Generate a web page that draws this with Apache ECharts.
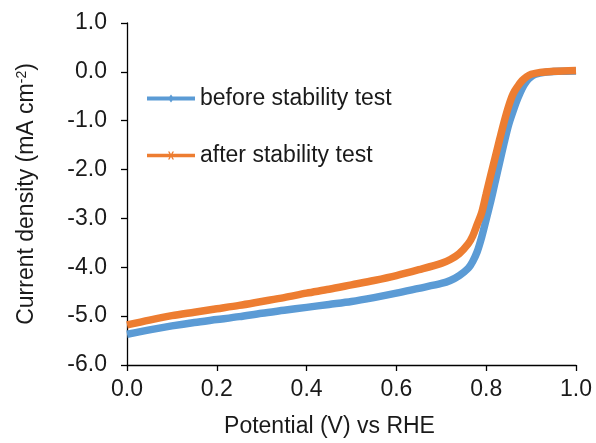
<!DOCTYPE html>
<html>
<head>
<meta charset="utf-8">
<script src="https://cdn.jsdelivr.net/npm/echarts@6/dist/echarts.min.js"></script>
<style>html,body{margin:0;padding:0;background:#fff}#c{width:596px;height:443px}</style>
</head>
<body>
<div id="c"></div>
<script>
var beforeX = [0.00,0.05,0.10,0.15,0.20,0.25,0.30,0.35,0.40,0.45,0.50,0.55,0.60,0.65,0.70,0.72,0.74,0.76,0.77,0.78,0.79,0.80,0.81,0.82,0.83,0.84,0.85,0.86,0.87,0.88,0.89,0.90,0.91,0.93,0.96,1.00];
var beforeY = [-5.37,-5.28,-5.20,-5.13,-5.07,-5.01,-4.94,-4.88,-4.82,-4.76,-4.70,-4.62,-4.53,-4.43,-4.33,-4.27,-4.17,-4.02,-3.88,-3.68,-3.38,-3.02,-2.65,-2.25,-1.85,-1.45,-1.08,-0.80,-0.55,-0.34,-0.19,-0.10,-0.05,-0.01,0.01,0.02];
var afterX = [0.00,0.05,0.10,0.15,0.20,0.25,0.30,0.35,0.40,0.45,0.50,0.55,0.60,0.65,0.70,0.72,0.74,0.76,0.77,0.78,0.79,0.80,0.81,0.82,0.83,0.84,0.85,0.86,0.87,0.88,0.89,0.90,0.92,0.95,1.00];
var afterY = [-5.18,-5.08,-4.99,-4.92,-4.85,-4.78,-4.70,-4.62,-4.53,-4.45,-4.36,-4.27,-4.17,-4.05,-3.92,-3.84,-3.72,-3.52,-3.36,-3.12,-2.88,-2.50,-2.12,-1.75,-1.38,-1.02,-0.70,-0.45,-0.30,-0.18,-0.10,-0.05,-0.01,0.01,0.03];
var seriesNames = ['before stability test','after stability test'];
var xTicks = {min:0, max:1, interval:0.2};
var yTicks = {min:-6, max:1, interval:1};

function pairs(xs, ys){ return xs.map(function(x,i){ return [x, ys[i]]; }); }

var FONT = '"Liberation Sans", Arial, sans-serif';
var TXT = '#1a1a1a';
var chart = echarts.init(document.getElementById('c'), null, {renderer:'canvas'});
chart.setOption({
  animation:false,
  backgroundColor:'#fff',
  textStyle:{fontFamily:FONT},
  grid:{left:127, right:20, top:23, bottom:75},
  legend:[
    {data:[{name:seriesNames[0], icon:'path://M0,2H48V6H0Z M24,0L27,4L24,8L21,4Z'}],
     left:147, top:87, padding:0, itemWidth:48, itemHeight:8, itemGap:5,
     textStyle:{fontSize:23, color:TXT, fontFamily:FONT}},
    {data:[{name:seriesNames[1], icon:'path://M0,2.2H48V5.8H0Z M21,0L22.5,0L27,8L25.5,8Z M25.5,0L27,0L22.5,8L21,8Z'}],
     left:147, top:144, padding:0, itemWidth:48, itemHeight:8, itemGap:5,
     textStyle:{fontSize:23, color:TXT, fontFamily:FONT}}
  ],
  xAxis:{
    type:'value', min:xTicks.min, max:xTicks.max, interval:xTicks.interval,
    name:'Potential (V) vs RHE', nameLocation:'middle', nameGap:50,
    nameTextStyle:{fontSize:23, color:TXT, fontFamily:FONT, padding:[0,44,0,0]},
    axisLine:{onZero:false, lineStyle:{color:'#000', width:1.3}},
    axisTick:{show:true, inside:false, length:6, lineStyle:{color:'#000', width:1.3}},
    axisLabel:{fontSize:23, color:TXT, margin:13, formatter:function(v){return v.toFixed(1);}},
    splitLine:{show:false}
  },
  yAxis:{
    type:'value', min:yTicks.min, max:yTicks.max, interval:yTicks.interval,
    name:'Current density (mA cm{sup|-2})', nameLocation:'middle', nameGap:88,
    nameTextStyle:{fontSize:23, color:TXT, fontFamily:FONT,
      rich:{sup:{fontSize:14, verticalAlign:'top', padding:[0,0,10,0], color:TXT, fontFamily:FONT}}},
    axisLine:{show:true, onZero:false, lineStyle:{color:'#000', width:1.3}},
    axisTick:{show:true, inside:false, length:6, lineStyle:{color:'#000', width:1.3}},
    axisLabel:{fontSize:23, color:TXT, margin:20, formatter:function(v){return v.toFixed(1);}},
    splitLine:{show:false}
  },
  series:[
    {name:seriesNames[0], type:'line', data:pairs(beforeX,beforeY), smooth:0.3,
     showSymbol:false, symbol:'none', color:'#5B9BD5',
     lineStyle:{width:7.5, color:'#5B9BD5'}, z:2},
    {name:seriesNames[1], type:'line', data:pairs(afterX,afterY), smooth:0.3,
     showSymbol:false, symbol:'none', color:'#ED7D31',
     lineStyle:{width:7.5, color:'#ED7D31'}, z:3}
  ]
});
</script>
</body>
</html>
